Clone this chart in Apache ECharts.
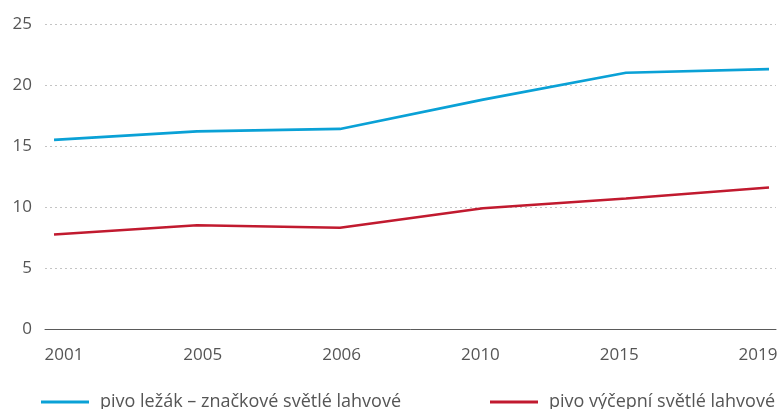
<!DOCTYPE html>
<html>
<head>
<meta charset="utf-8">
<script src="https://cdn.jsdelivr.net/npm/echarts@6/dist/echarts.min.js"></script>
<style>
  html, body { margin: 0; padding: 0; background: #fff; }
  #chart { width: 782px; height: 409px; }
</style>
</head>
<body>
<div id="chart"></div>
<script>
// roky a hodnoty
const years = ['2001', '2005', '2006', '2010', '2015', '2019'];
const lezak = [15.5, 16.2, 16.4, 18.8, 21.0, 21.3];
const vycepni = [7.75, 8.5, 8.3, 9.9, 10.7, 11.6];
const names = ['pivo ležák – značkové světlé lahvové', 'pivo výčepní světlé lahvové'];
const colors = ['#0aa1d6', '#c11a2f'];
const yTicks = [0, 5, 10, 15, 20, 25];

const font = 'Open Sans';
const textColor = '#555';

const chart = echarts.init(document.getElementById('chart'));

const toPairs = arr => arr.map((v, i) => [i, v]);

const legendBase = {
  top: 393,
  padding: 0,
  icon: 'rect', itemWidth: 48, itemHeight: 3,
  textStyle: { color: textColor, fontSize: 18, fontFamily: font, padding: [0, 0, 0, 6] }
};

chart.setOption({
  animation: false,
  textStyle: { fontFamily: font },
  grid: [
    { left: 45, right: 6, top: 24, bottom: 80 },
    // jen pro popisky roků
    { left: 64, right: 24, top: 24, bottom: 80 }
  ],
  xAxis: [
    {
      type: 'value',
      gridIndex: 0,
      min: -0.063,
      max: 5.049,
      axisLine: { show: true, onZero: false, lineStyle: { color: '#5a5a5a', width: 1 } },
      axisTick: { show: false },
      axisLabel: { show: false },
      splitLine: { show: false }
    },
    {
      type: 'category',
      gridIndex: 1,
      data: years,
      boundaryGap: false,
      axisLine: { show: false },
      axisTick: { show: false },
      splitLine: { show: false },
      axisLabel: { color: textColor, fontSize: 17, fontFamily: font, margin: 18, interval: 0 }
    }
  ],
  yAxis: [
    {
      type: 'value',
      gridIndex: 0,
      min: yTicks[0],
      max: yTicks[yTicks.length - 1],
      interval: 5,
      axisLine: { show: false },
      axisTick: { show: false },
      axisLabel: { color: textColor, fontSize: 17, fontFamily: font, margin: 13 },
      splitLine: { lineStyle: { color: '#c4c4c4', type: [2, 3], width: 1 } }
    },
    { type: 'value', gridIndex: 1, show: false, min: 0, max: 25 }
  ],
  legend: [
    Object.assign({}, legendBase, { data: [names[0]], left: 41 }),
    Object.assign({}, legendBase, { data: [names[1]], left: 490 })
  ],
  series: [
    {
      name: names[0],
      type: 'line',
      xAxisIndex: 0, yAxisIndex: 0,
      data: toPairs(lezak),
      symbol: 'none',
      color: colors[0],
      lineStyle: { width: 2.6, color: colors[0] }
    },
    {
      name: names[1],
      type: 'line',
      xAxisIndex: 0, yAxisIndex: 0,
      data: toPairs(vycepni),
      symbol: 'none',
      color: colors[1],
      lineStyle: { width: 2.6, color: colors[1] }
    }
  ]
});
</script>
</body>
</html>
